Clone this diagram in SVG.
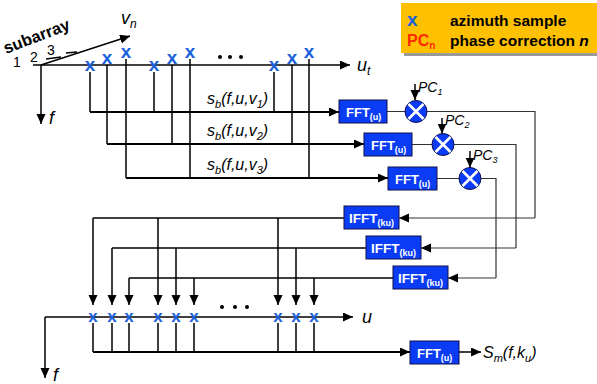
<svg xmlns="http://www.w3.org/2000/svg" width="597" height="384" viewBox="0 0 597 384">
<style>
.ln{stroke:#000;stroke-width:1.5;fill:none}
.tk{stroke:#000;stroke-width:2;fill:none}
.th{stroke:#333;stroke-width:1.2;fill:none}
.x{font-family:"Liberation Sans",Arial,sans-serif;font-weight:bold;font-size:19px;fill:#1a62dc;text-anchor:middle}
.it{font-family:"Liberation Sans",Arial,sans-serif;font-style:italic;fill:#000}
.bx{fill:#0a3cf5;stroke:#10104a;stroke-width:1}
.bt{font-family:"Liberation Sans",Arial,sans-serif;font-weight:bold;fill:#fff}
.lg{font-family:"Liberation Sans",Arial,sans-serif;font-weight:bold;font-size:15.5px;fill:#000}
.num{font-family:"Liberation Sans",Arial,sans-serif;font-size:14px;fill:#000}
</style>
<defs>
<marker id="a" markerUnits="userSpaceOnUse" markerWidth="10" markerHeight="10" refX="10" refY="4.5" orient="auto">
<path d="M0,0 L10,4.5 L0,9 z" fill="#000"/>
</marker>
<g id="mul">
<circle r="11" fill="#0a3cf5" stroke="#10104a" stroke-width="1"/>
<path d="M-7.5,-7.5 L7.5,7.5 M7.5,-7.5 L-7.5,7.5" stroke="#fff" stroke-width="2.6"/>
</g>
</defs>
<rect width="597" height="384" fill="#fff"/>

<!-- legend -->
<g id="legend">
<rect x="404" y="6" width="196" height="50" fill="#9a9a9a"/>
<rect x="401" y="3" width="196" height="50" fill="#ffc000"/>
<text x="407" y="26" class="lg" style="fill:#1a62dc;font-size:19px">x</text>
<text x="450" y="26" class="lg">azimuth sample</text>
<text x="407" y="46" class="lg" style="fill:#ff2a00;font-size:16px">PC<tspan font-size="10" dy="3">n</tspan></text>
<text x="450" y="46" class="lg">phase correction <tspan font-style="italic">n</tspan></text>
</g>

<!-- top axes -->
<g id="axes-top">
<line x1="33" y1="65" x2="350" y2="65" class="ln" marker-end="url(#a)"/>
<line x1="41" y1="65" x2="41" y2="124" class="ln" marker-end="url(#a)"/>
<line x1="41" y1="65" x2="130" y2="36" class="ln" marker-end="url(#a)"/>
<line x1="46" y1="59" x2="61" y2="57" class="ln" stroke-width="1"/>
<line x1="66" y1="53" x2="77" y2="52" class="ln" stroke-width="1"/>
<text x="357" y="71" class="it" font-size="18">u<tspan font-size="12" dy="4">t</tspan></text>
<text x="49" y="124" class="it" font-size="18">f</text>
<text x="121" y="24" class="it" font-size="18">v<tspan font-size="12" dy="4">n</tspan></text>
<text x="6" y="54" transform="rotate(-21 6 54)" style="font-family:'Liberation Sans',Arial,sans-serif;font-weight:bold;font-size:16.5px">subarray</text>
<text x="13" y="67" class="num">1</text>
<text x="30" y="62" class="num">2</text>
<text x="47" y="55" class="num">3</text>
<circle cx="220" cy="57" r="2" fill="#000"/>
<circle cx="230" cy="57" r="2" fill="#000"/>
<circle cx="241" cy="57" r="2" fill="#000"/>
</g>

<!-- connectors -->
<g id="connectors">
<path d="M90,72 V112 M154,72 V112 M274,72 V112" class="ln"/>
<line x1="90" y1="112" x2="339" y2="112" class="tk" marker-end="url(#a)"/>
<path d="M107,65 V144 M172,65 V144 M292,65 V144" class="ln"/>
<line x1="107" y1="144" x2="364" y2="144" class="tk" marker-end="url(#a)"/>
<path d="M126,59 V178 M190,59 V178 M309,59 V178" class="ln"/>
<line x1="126" y1="178" x2="388" y2="178" class="tk" marker-end="url(#a)"/>
<path d="M387,111.5 H405 M412,144.5 H432 M437,178.5 H459" class="th"/>
<path d="M427,111.5 H535 V218" class="th"/>
<line x1="535" y1="218" x2="399" y2="218" class="th" marker-end="url(#a)"/>
<path d="M454,144.5 H516 V248" class="th"/>
<line x1="516" y1="248" x2="421" y2="248" class="th" marker-end="url(#a)"/>
<path d="M481,178.5 H496 V278" class="th"/>
<line x1="496" y1="278" x2="448" y2="278" class="th" marker-end="url(#a)"/>
<line x1="415" y1="84" x2="415" y2="100" class="ln" marker-end="url(#a)"/>
<line x1="442" y1="118" x2="442" y2="133.5" class="ln" marker-end="url(#a)"/>
<line x1="470" y1="151" x2="470" y2="167.5" class="ln" marker-end="url(#a)"/>
<path d="M344,218 H93" class="ln"/>
<line x1="93" y1="218" x2="93" y2="305" class="ln" marker-end="url(#a)"/>
<line x1="158" y1="218" x2="158" y2="305" class="ln" marker-end="url(#a)"/>
<line x1="278" y1="218" x2="278" y2="305" class="ln" marker-end="url(#a)"/>
<path d="M366,248 H112" class="ln"/>
<line x1="112" y1="248" x2="112" y2="305" class="ln" marker-end="url(#a)"/>
<line x1="176" y1="248" x2="176" y2="305" class="ln" marker-end="url(#a)"/>
<line x1="296" y1="248" x2="296" y2="305" class="ln" marker-end="url(#a)"/>
<path d="M393,278 H129" class="ln"/>
<line x1="129" y1="278" x2="129" y2="305" class="ln" marker-end="url(#a)"/>
<line x1="194" y1="278" x2="194" y2="305" class="ln" marker-end="url(#a)"/>
<line x1="314" y1="278" x2="314" y2="305" class="ln" marker-end="url(#a)"/>
<path d="M93,323 V352 M112,323 V352 M129,323 V352 M158,323 V352 M176,323 V352 M194,323 V352 M278,323 V352 M296,323 V352 M314,323 V352" class="ln"/>
<line x1="93" y1="352" x2="410" y2="352" class="tk" marker-end="url(#a)"/>
<line x1="459" y1="352" x2="481" y2="352" class="ln" marker-end="url(#a)"/>
</g>

<!-- signal labels -->
<g id="labels">
<text x="207" y="104" class="it" font-size="16">s<tspan font-size="11" dy="4">b</tspan><tspan dy="-4">(f,u,v</tspan><tspan font-size="11" dy="4">1</tspan><tspan dy="-4">)</tspan></text>
<text x="207" y="136" class="it" font-size="16">s<tspan font-size="11" dy="4">b</tspan><tspan dy="-4">(f,u,v</tspan><tspan font-size="11" dy="4">2</tspan><tspan dy="-4">)</tspan></text>
<text x="207" y="170" class="it" font-size="16">s<tspan font-size="11" dy="4">b</tspan><tspan dy="-4">(f,u,v</tspan><tspan font-size="11" dy="4">3</tspan><tspan dy="-4">)</tspan></text>
<text x="418" y="92" class="it" font-size="14">PC<tspan font-size="9" dy="3">1</tspan></text>
<text x="445" y="125" class="it" font-size="14">PC<tspan font-size="9" dy="3">2</tspan></text>
<text x="473" y="160" class="it" font-size="14">PC<tspan font-size="9" dy="3">3</tspan></text>
<text x="483" y="358" class="it" font-size="16">S<tspan font-size="11" dy="4">m</tspan><tspan dy="-4">(f,k</tspan><tspan font-size="11" dy="4">u</tspan><tspan dy="-4">)</tspan></text>
</g>

<!-- top samples -->
<g id="samples-top">
<text x="90" y="71" class="x">x</text>
<text x="154" y="71" class="x">x</text>
<text x="274" y="71" class="x">x</text>
<text x="107" y="64" class="x">x</text>
<text x="172" y="64" class="x">x</text>
<text x="292" y="64" class="x">x</text>
<text x="126" y="58" class="x">x</text>
<text x="190" y="58" class="x">x</text>
<text x="309" y="58" class="x">x</text>
</g>

<!-- blocks -->
<g id="fft1"><rect x="339" y="100" width="48" height="23" class="bx"/><text x="346" y="117" class="bt" font-size="13">FFT<tspan font-size="9" dy="3">(u)</tspan></text></g>
<g id="fft2"><rect x="364" y="133" width="48" height="23" class="bx"/><text x="371" y="150" class="bt" font-size="13">FFT<tspan font-size="9" dy="3">(u)</tspan></text></g>
<g id="fft3"><rect x="388" y="167" width="49" height="23" class="bx"/><text x="395" y="184" class="bt" font-size="13">FFT<tspan font-size="9" dy="3">(u)</tspan></text></g>
<g id="mul1"><use href="#mul" x="416" y="111.5"/></g>
<g id="mul2"><use href="#mul" x="443" y="144.5"/></g>
<g id="mul3"><use href="#mul" x="470" y="178.5"/></g>
<g id="ifft1"><rect x="344" y="206" width="55" height="23" class="bx"/><text x="349" y="223" class="bt" font-size="13.5">IFFT<tspan font-size="9" dy="3">(ku)</tspan></text></g>
<g id="ifft2"><rect x="366" y="236" width="55" height="23" class="bx"/><text x="371" y="253" class="bt" font-size="13.5">IFFT<tspan font-size="9" dy="3">(ku)</tspan></text></g>
<g id="ifft3"><rect x="393" y="266" width="55" height="23" class="bx"/><text x="398" y="283" class="bt" font-size="13.5">IFFT<tspan font-size="9" dy="3">(ku)</tspan></text></g>

<!-- bottom axes -->
<g id="axes-bottom">
<line x1="45" y1="317" x2="353" y2="317" class="ln" stroke-width="1.2" marker-end="url(#a)"/>
<line x1="45" y1="317" x2="45" y2="378" class="ln" stroke-width="1.2" marker-end="url(#a)"/>
<text x="362" y="323" class="it" font-size="18">u</text>
<text x="53" y="381" class="it" font-size="18">f</text>
<circle cx="222" cy="307" r="2" fill="#000"/>
<circle cx="235" cy="307" r="2" fill="#000"/>
<circle cx="247" cy="307" r="2" fill="#000"/>
</g>
<g id="samples-bottom" style="font-size:17px">
<text x="93" y="322" class="x" style="font-size:17px">x</text>
<text x="112" y="322" class="x" style="font-size:17px">x</text>
<text x="129" y="322" class="x" style="font-size:17px">x</text>
<text x="158" y="322" class="x" style="font-size:17px">x</text>
<text x="176" y="322" class="x" style="font-size:17px">x</text>
<text x="194" y="322" class="x" style="font-size:17px">x</text>
<text x="278" y="322" class="x" style="font-size:17px">x</text>
<text x="296" y="322" class="x" style="font-size:17px">x</text>
<text x="314" y="322" class="x" style="font-size:17px">x</text>
</g>
<g id="fft4"><rect x="410" y="341" width="49" height="23" class="bx"/><text x="417" y="358" class="bt" font-size="13">FFT<tspan font-size="9" dy="3">(u)</tspan></text></g>
</svg>
